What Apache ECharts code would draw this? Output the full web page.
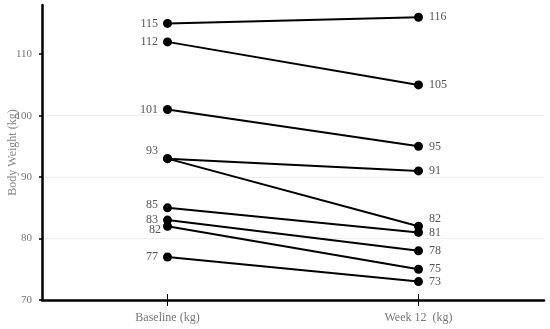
<!DOCTYPE html>
<html>
<head>
<meta charset="utf-8">
<script src="https://cdn.jsdelivr.net/npm/echarts@6/dist/echarts.min.js"></script>
<style>
html,body{margin:0;padding:0;background:#fff;}
#chart{width:550px;height:329px;}
</style>
</head>
<body>
<div id="chart"></div>
<script>
var categories = ['Baseline (kg)', 'Week 12  (kg)'];
var baseline = [115, 112, 101, 93, 93, 85, 83, 82, 77];
var week12 = [116, 105, 95, 91, 82, 81, 78, 75, 73];
var yTicks = [70, 80, 90, 100, 110];

// label placement tweaks (style only), keyed by subject index
var baseLabelOffset = {3: [0, -8], 5: [0, -3], 7: [3, 4]};
var baseLabelHidden = {4: true};
var weekLabelOffset = {4: [0, -7]};

var FONT = '"Liberation Serif", "Times New Roman", serif';
var series = baseline.map(function (b, i) {
  return {
    type: 'line',
    xAxisIndex: 0,
    yAxisIndex: 0,
    symbol: 'circle',
    symbolSize: 9,
    itemStyle: {color: '#000'},
    lineStyle: {color: '#000', width: 2},
    emphasis: {disabled: true},
    silent: true,
    z: 5,
    data: [
      {value: b, label: {show: !baseLabelHidden[i], position: 'left', distance: 5, offset: baseLabelOffset[i] || [0, 0]}},
      {value: week12[i], label: {show: true, position: 'right', distance: 6, offset: weekLabelOffset[i] || [0, 0]}}
    ],
    label: {color: '#555', fontFamily: FONT, fontSize: 12, formatter: '{c}'}
  };
});

var chart = echarts.init(document.getElementById('chart'), null, {renderer: 'canvas'});
chart.setOption({
  animation: false,
  backgroundColor: '#fff',
  grid: {left: 42, right: 6, top: 5, bottom: 29, containLabel: false, outerBoundsMode: 'none'},
  xAxis: [{
    type: 'category',
    data: categories,
    boundaryGap: true,
    axisLine: {lineStyle: {color: '#000', width: 2.5}},
    axisTick: {show: true, alignWithLabel: true, length: 6, lineStyle: {color: '#000', width: 1}},
    axisLabel: {color: '#777', fontFamily: FONT, fontSize: 12, margin: 12, interval: 0},
    splitLine: {show: false}
  }, {
    type: 'category',
    data: categories,
    position: 'bottom',
    boundaryGap: true,
    axisLine: {show: false},
    axisTick: {show: true, inside: true, alignWithLabel: true, length: 6, lineStyle: {color: '#000', width: 1}},
    axisLabel: {show: false},
    splitLine: {show: false}
  }],
  yAxis: {
    type: 'value',
    min: 70,
    max: 118,
    interval: 10,
    name: 'Body Weight (kg)',
    nameLocation: 'middle',
    nameGap: 23,
    nameMoveOverlap: false,
    nameTextStyle: {color: '#888', fontFamily: FONT, fontSize: 12},
    axisLine: {show: true, lineStyle: {color: '#000', width: 2.5}},
    axisTick: {show: true, length: 3, customValues: yTicks, lineStyle: {color: '#000', width: 1.5}},
    axisLabel: {color: '#777', fontFamily: FONT, fontSize: 11, margin: 10, customValues: yTicks},
    splitLine: {show: true, showMaxLine: false, showMinLine: false, lineStyle: {color: '#eee', width: 1}}
  },
  series: series
});
</script>
</body>
</html>
